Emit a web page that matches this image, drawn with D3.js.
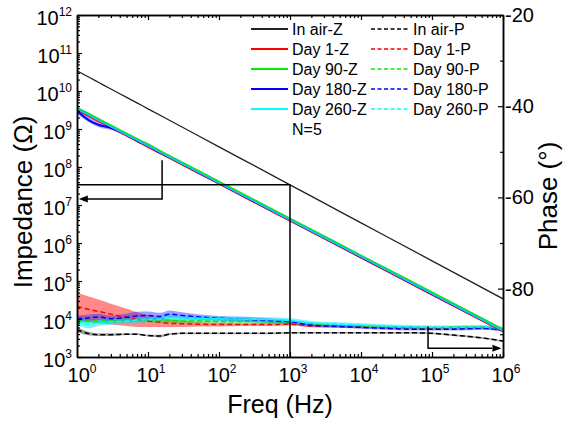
<!DOCTYPE html>
<html>
<head>
<meta charset="utf-8">
<script src="https://cdn.jsdelivr.net/npm/d3@7"></script>
<style>
  body { margin: 0; background: #fff; }
  svg text { font-family: "Liberation Sans", Arial, sans-serif; fill: #000; }
</style>
</head>
<body>
<div id="chart"></div>
<script>
// Data
//////////////////////////////////////////////////////////////////////
// impedance (Ohm), left log axis
const zFreq = [1, 1.5, 2, 3, 5, 7, 10, 20, 100, 1e3, 1e4, 1e5, 1e6];
const zInAir = [3.4e10, 2.27e10, 1.7e10, 1.13e10, 6.8e9, 4.86e9, 3.4e9, 1.7e9, 3.4e8, 3.4e7, 3.4e6, 3.4e5, 3.4e4];
const zDay1 = [3.21e9, 2.16e9, 1.63e9, 1.10e9, 6.71e8, 4.84e8, 3.42e8, 1.74e8, 3.65e7, 3.89e6, 4.15e5, 4.43e4, 4.72e3];
const zDay90 = [3.60e9, 2.43e9, 1.83e9, 1.24e9, 7.53e8, 5.43e8, 3.84e8, 1.95e8, 4.09e7, 4.37e6, 4.66e5, 4.97e4, 5.30e3];
const zDay180 = [2.95e9, 1.66e9, 1.29e9, 1.07e9, 7.08e8, 5.01e8, 3.58e8, 1.82e8, 3.82e7, 4.07e6, 4.35e5, 4.63e4, 4.94e3];
const zDay180Hi = [3.55e9, 2.24e9, 1.66e9, 1.20e9, 7.59e8, 5.75e8, 4.37e8, 1.95e8, 3.98e7, 4.17e6, 4.45e5, 4.74e4, 5.06e3];
const zDay180Lo = [2.51e9, 1.45e9, 1.12e9, 9.55e8, 6.61e8, 4.68e8, 3.31e8, 1.74e8, 3.63e7, 3.98e6, 4.25e5, 4.52e4, 4.83e3];
const zDay260 = [3.44e9, 2.32e9, 1.75e9, 1.18e9, 7.19e8, 5.19e8, 3.66e8, 1.87e8, 3.91e7, 4.17e6, 4.45e5, 4.74e4, 5.06e3];

// phase (deg), right axis, mean and sd (N=5)
const pFreq = [1, 1.5, 2, 3, 5, 7, 10, 15, 20, 30, 50, 100, 200, 500, 1e3, 2e3, 5e3, 1e4, 2e4, 5e4, 1e5, 2e5, 5e5, 1e6];
const pInAir = [-89.0, -89.9, -90.1, -90.1, -90.0, -90.0, -90.3, -90.4, -90.0, -89.8, -89.8, -89.8, -89.8, -89.8, -89.7, -89.7, -89.7, -89.7, -89.7, -89.7, -89.8, -90.2, -90.8, -91.5];
const sdInAir = [0.5, 0.4, 0.3, 0.3, 0.2, 0.2, 0.2, 0.3, 0.2, 0.2, 0.2, 0.2, 0.2, 0.2, 0.2, 0.2, 0.2, 0.2, 0.2, 0.2, 0.2, 0.2, 0.2, 0.2];
const pDay1 = [-83.9, -84.6, -85.0, -85.6, -86.3, -86.8, -87.1, -87.4, -87.6, -87.7, -87.8, -87.9, -87.9, -87.9, -87.8, -88.2, -88.3, -88.4, -88.5, -88.6, -88.7, -88.6, -88.6, -89.0];
const sdDay1 = [3.0, 2.8, 2.6, 2.3, 1.9, 1.6, 1.3, 1.0, 0.8, 0.7, 0.5, 0.4, 0.3, 0.3, 0.3, 0.3, 0.3, 0.3, 0.3, 0.3, 0.3, 0.3, 0.3, 0.3];
const pDay90 = [-87.0, -87.1, -87.1, -87.0, -86.9, -86.9, -86.9, -87.0, -87.0, -87.1, -87.1, -87.2, -87.2, -87.3, -87.4, -87.8, -88.1, -88.2, -88.4, -88.5, -88.6, -88.5, -88.4, -88.9];
const sdDay90 = [0.5, 0.5, 0.5, 0.5, 0.5, 0.5, 0.5, 0.5, 0.5, 0.5, 0.4, 0.4, 0.4, 0.4, 0.4, 0.4, 0.3, 0.3, 0.3, 0.3, 0.3, 0.3, 0.3, 0.3];
const pDay180 = [-86.6, -86.4, -86.2, -86.6, -86.3, -86.0, -85.9, -86.1, -85.6, -85.9, -86.2, -86.5, -86.7, -87.0, -87.3, -88.0, -88.3, -88.5, -88.7, -88.9, -88.9, -88.9, -88.7, -89.1];
const sdDay180 = [0.7, 0.7, 0.7, 0.7, 0.8, 0.9, 0.9, 0.8, 0.8, 0.7, 0.6, 0.5, 0.5, 0.5, 0.4, 0.4, 0.3, 0.3, 0.3, 0.3, 0.3, 0.3, 0.3, 0.3];
const pDay260 = [-87.2, -87.9, -87.5, -87.3, -87.1, -86.9, -86.8, -86.7, -86.3, -86.4, -86.5, -86.6, -86.7, -86.8, -87.0, -87.5, -87.8, -88.0, -88.2, -88.4, -88.5, -88.5, -88.4, -88.8];
const sdDay260 = [0.8, 0.8, 0.7, 0.6, 0.6, 0.6, 0.6, 0.6, 0.6, 0.6, 0.5, 0.5, 0.5, 0.5, 0.5, 0.4, 0.4, 0.4, 0.4, 0.4, 0.4, 0.4, 0.4, 0.4];

// ticks and legend
const xTicks = [1, 10, 100, 1e3, 1e4, 1e5, 1e6];
const xExp = ["0", "1", "2", "3", "4", "5", "6"];
const zTicks = [1e3, 1e4, 1e5, 1e6, 1e7, 1e8, 1e9, 1e10, 1e11, 1e12];
const zExp = ["3", "4", "5", "6", "7", "8", "9", "10", "11", "12"];
const pTicks = [-20, -40, -60, -80];
const pLabels = ["-20", "-40", "-60", "-80"];
const pMinor = [-30, -50, -70, -90];
const legendZ = ["In air-Z", "Day 1-Z", "Day 90-Z", "Day 180-Z", "Day 260-Z"];
const legendP = ["In air-P", "Day 1-P", "Day 90-P", "Day 180-P", "Day 260-P"];
const colors = ["#000000", "#ff0000", "#00ee00", "#0000ff", "#00ffff"];

// Layout
//////////////////////////////////////////////////////////////////////
const W = 563, H = 423;
const mLeft = 77, mRight = 503, mTop = 15, mBottom = 357;

const svg = d3.select("#chart").append("svg")
  .attr("width", W)
  .attr("height", H);

const x = d3.scaleLog().domain([1, 1e6]).range([mLeft, mRight]);
const yZ = d3.scaleLog().domain([1e3, 1e12]).range([mBottom, mTop]);
const yP = d3.scaleLinear().domain([-95, -20]).range([mBottom, mTop]);

// minor log ticks
function minorLog(lo, hi) {
  const out = [];
  for (let e = lo; e < hi; e++)
    for (let k = 2; k <= 9; k++) out.push(k * Math.pow(10, e));
  return out;
}

svg.append("defs").append("clipPath").attr("id", "plotclip")
  .append("rect").attr("x", mLeft).attr("y", mTop)
  .attr("width", mRight - mLeft).attr("height", mBottom - mTop);

const plot = svg.append("g").attr("clip-path", "url(#plotclip)");

// Phase bands + dashed lines
//////////////////////////////////////////////////////////////////////
const phaseSeries = [
  { m: pInAir, sd: sdInAir, c: "#000000", fill: "rgba(0,0,0,0.35)" },
  { m: pDay1, sd: sdDay1, c: "#ff0000", fill: "rgba(255,40,40,0.55)" },
  { m: pDay90, sd: sdDay90, c: "#00ee00", fill: "rgba(0,220,0,0.4)" },
  { m: pDay180, sd: sdDay180, c: "#0000ff", fill: "rgba(40,40,255,0.45)" },
  { m: pDay260, sd: sdDay260, c: "#00ffff", fill: "rgba(0,230,255,0.5)" }
];

const band = d3.area()
  .x((d, i) => x(pFreq[i]))
  .y0(d => yP(d[0] - d[1]))
  .y1(d => yP(d[0] + d[1]))
  .curve(d3.curveMonotoneX);

const pline = d3.line()
  .x((d, i) => x(pFreq[i]))
  .y(d => yP(d))
  .curve(d3.curveMonotoneX);

phaseSeries.forEach(s => {
  plot.append("path")
    .datum(s.m.map((v, i) => [v, s.sd[i]]))
    .attr("fill", s.fill)
    .attr("d", band);
});
phaseSeries.forEach(s => {
  plot.append("path")
    .datum(s.m)
    .attr("fill", "none")
    .attr("stroke", s.c)
    .attr("stroke-width", 1.5)
    .attr("stroke-dasharray", "5,3")
    .attr("d", pline);
});

// Impedance lines
//////////////////////////////////////////////////////////////////////
const zline = d3.line()
  .x((d, i) => x(zFreq[i]))
  .y(d => yZ(d))
  .curve(d3.curveMonotoneX);

plot.append("path")
  .datum(zDay180Hi.map((v, i) => [v, zDay180Lo[i]]))
  .attr("fill", "rgba(90,80,255,0.45)")
  .attr("d", d3.area()
    .x((d, i) => x(zFreq[i]))
    .y0(d => yZ(d[1]))
    .y1(d => yZ(d[0]))
    .curve(d3.curveMonotoneX));

plot.append("path").datum(zInAir)
  .attr("fill", "none").attr("stroke", "#222").attr("stroke-width", 1.3)
  .attr("d", zline);

[[zDay1, "#ff0000"], [zDay180, "#0000ff"], [zDay260, "#00ffff"], [zDay90, "#00ee00"]]
  .forEach(([data, c]) => {
    plot.append("path").datum(data)
      .attr("fill", "none").attr("stroke", c).attr("stroke-width", 2.2)
      .attr("d", zline);
  });
// lighter middle stroke so the bundle reads cyan-blue like the reference
plot.append("path").datum(zDay260)
  .attr("fill", "none").attr("stroke", "#20b8f0").attr("stroke-width", 1.4)
  .attr("d", zline);

// Annotations
//////////////////////////////////////////////////////////////////////
const ann = svg.append("g").attr("stroke", "#000").attr("stroke-width", 1.5).attr("fill", "none");
// 1 kHz marker of in-air impedance
ann.append("path").attr("d",
  `M${x(1)},${yZ(3.4e7)}H${x(1e3)}V${yZ(1e3)}`);
// arrow to left axis
ann.append("path").attr("d",
  `M${x(15.8)},${yZ(1.5e8)}V${yZ(1.44e7)}H${x(1.2)}`);
svg.append("path").attr("fill", "#000").attr("d",
  `M${x(1.06)},${yZ(1.44e7)}l9,-3.5v7z`);
// arrow to right axis
ann.append("path").attr("d",
  `M${x(8.8e4)},${yP(-88.3)}V${yP(-93.1)}H${x(7e5)}`);
svg.append("path").attr("fill", "#000").attr("d",
  `M${x(9.5e5)},${yP(-93.1)}l-9,-3.5v7z`);

// Axes
//////////////////////////////////////////////////////////////////////
function tickAxis(axis, tr) {
  const g = svg.append("g").attr("transform", tr).call(axis);
  g.select(".domain").attr("stroke-width", 1.5);
  g.selectAll(".tick line").attr("stroke-width", 1.2);
  g.selectAll(".tick text").remove();
  return g;
}
const xMinor = minorLog(0, 6);
const zMinor = minorLog(3, 12);

tickAxis(d3.axisBottom(x).tickValues(xTicks).tickSizeInner(-5).tickSizeOuter(0), `translate(0,${mBottom})`);
tickAxis(d3.axisBottom(x).tickValues(xMinor).tickSizeInner(-3).tickSizeOuter(0), `translate(0,${mBottom})`);
tickAxis(d3.axisTop(x).tickValues(xTicks).tickSizeInner(-5).tickSizeOuter(0), `translate(0,${mTop})`);
tickAxis(d3.axisTop(x).tickValues(xMinor).tickSizeInner(-3).tickSizeOuter(0), `translate(0,${mTop})`);
tickAxis(d3.axisLeft(yZ).tickValues(zTicks).tickSizeInner(-5).tickSizeOuter(0), `translate(${mLeft},0)`);
tickAxis(d3.axisLeft(yZ).tickValues(zMinor).tickSizeInner(-3).tickSizeOuter(0), `translate(${mLeft},0)`);
tickAxis(d3.axisRight(yP).tickValues(pTicks).tickSizeInner(-5).tickSizeOuter(0), `translate(${mRight},0)`);
tickAxis(d3.axisRight(yP).tickValues(pMinor).tickSizeInner(-3).tickSizeOuter(0), `translate(${mRight},0)`);

// tick labels with superscripts
function powLabel(g, px, py, exp, anchor) {
  const t = g.append("text")
    .attr("x", px).attr("y", py)
    .attr("text-anchor", anchor)
    .attr("font-size", 20);
  t.append("tspan").text("10");
  t.append("tspan").attr("dy", -9).attr("font-size", 12).text(exp);
}
const labels = svg.append("g");
xTicks.forEach((v, i) => powLabel(labels, x(v) + (i === 0 ? 5 : 3), mBottom + 25, xExp[i], "middle"));
zTicks.forEach((v, i) => powLabel(labels, mLeft - 5, yZ(v) + 9.5, zExp[i], "end"));
pTicks.forEach((v, i) => {
  labels.append("text")
    .attr("x", mRight + 2).attr("y", yP(v) + 7)
    .attr("font-size", 20)
    .text(pLabels[i]);
});

// axis titles
svg.append("text")
  .attr("x", 280).attr("y", 413)
  .attr("text-anchor", "middle").attr("font-size", 25)
  .text("Freq (Hz)");
svg.append("text")
  .attr("transform", "translate(32,202) rotate(-90)")
  .attr("text-anchor", "middle").attr("font-size", 26)
  .text("Impedance (Ω)");
svg.append("text")
  .attr("transform", "translate(557,196) rotate(-90)")
  .attr("text-anchor", "middle").attr("font-size", 26)
  .text("Phase (°)");

// Legend
//////////////////////////////////////////////////////////////////////
const legend = svg.append("g").attr("font-size", 16);
legendZ.forEach((name, i) => {
  const cy = 29 + i * 20;
  legend.append("line")
    .attr("x1", 251).attr("x2", 288).attr("y1", cy).attr("y2", cy)
    .attr("stroke", i === 0 ? "#222" : colors[i]).attr("stroke-width", 1.8);
  legend.append("text").attr("x", 292).attr("y", cy + 5.5).text(name);
});
legendP.forEach((name, i) => {
  const cy = 29 + i * 20;
  legend.append("line")
    .attr("x1", 371).attr("x2", 410).attr("y1", cy).attr("y2", cy)
    .attr("stroke", colors[i]).attr("stroke-width", 1.5)
    .attr("stroke-dasharray", "4,2.5");
  legend.append("text").attr("x", 413).attr("y", cy + 5.5).text(name);
});
legend.append("text").attr("x", 292).attr("y", 29 + 5 * 20 + 5.5).text("N=5");
</script>
</body>
</html>
